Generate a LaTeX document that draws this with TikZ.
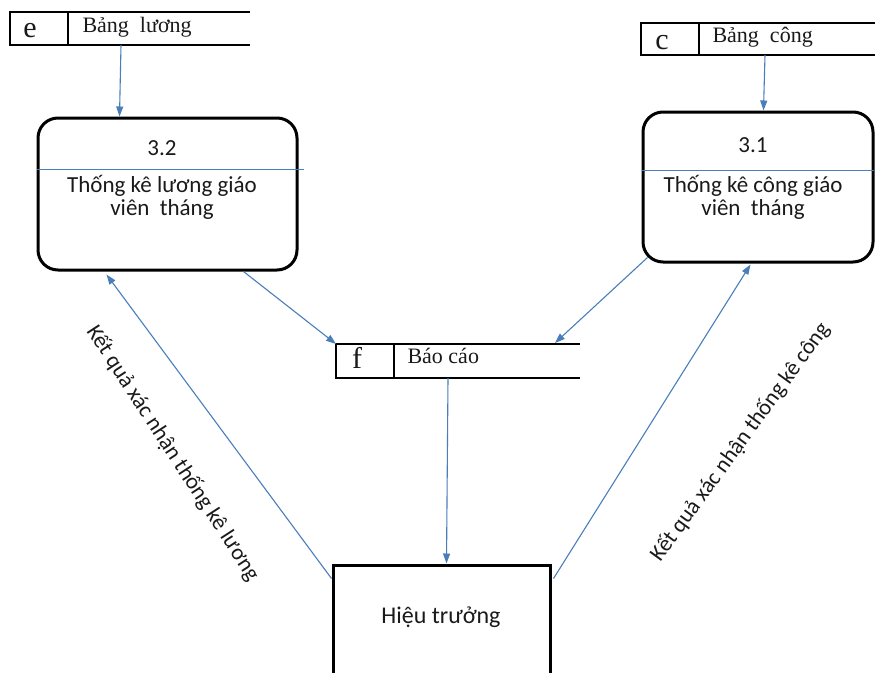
\documentclass[tikz,border=0pt]{standalone}
\usepackage{fontspec}
\setmainfont{Carlito}
\newfontfamily\storefont{Liberation Serif}
\usetikzlibrary{arrows.meta,calc}

\definecolor{flow}{HTML}{4A7EBB}
\definecolor{ink}{HTML}{1A1A1A}

\begin{document}
\begin{tikzpicture}[x=1pt,y=-1pt,
  flowline/.style={draw=flow, line width=1.1pt, -{Triangle[length=10pt,width=7pt]}},
  divline/.style={draw=flow, line width=1pt},
  procbox/.style={draw, line width=3pt, rounded corners=20pt, inner sep=0pt},
  agentbox/.style={draw, line width=3pt, inner sep=0pt},
  storearea/.style={inner sep=0pt, outer sep=0pt},
  storeline/.style={draw, line width=1.4pt},
  storeid/.style={font=\storefont\fontsize{30}{32}\selectfont, text=ink, anchor=base},
  storename/.style={font=\storefont\fontsize{22}{24}\selectfont, text=ink, anchor=base west},
  proctext/.style={font=\fontsize{23}{23}\selectfont, text=ink, align=center},
  flowlabel/.style={font=\fontsize{22.5}{24}\selectfont, text=ink}
]
\clip (0,0) rectangle (875,672);
\fill[white] (0,0) rectangle (875,672);

% ---- data stores (open-ended on the right) ----
\node[storearea, minimum width=240pt, minimum height=33pt] (se) at (130,28.5) {};
\node[storearea, minimum width=234pt, minimum height=32pt] (sc) at (758,39) {};
\node[storearea, minimum width=244pt, minimum height=34pt] (sf) at (458,361) {};

\foreach \s/\d in {se/58, sc/58, sf/58}{
  \draw[storeline] (\s.north east) -- (\s.north west) -- (\s.south west) -- (\s.south east);
  \draw[storeline] ($(\s.north west)+(\d,0)$) -- ($(\s.south west)+(\d,0)$);
}
\node[storeid] (ide) at ($(se.north west)+(20,25)$) {e};
\node[storeid] (idc) at ($(sc.north west)+(21,26)$) {c};
\node[storeid] (idf) at ($(sf.north west)+(21,24)$) {f};
\node[storename] (ne) at ($(se.north west)+(69,20)$) {Bảng\ \ lương};
\node[storename] (nc) at ($(sc.north west)+(68,19)$) {Bảng\ \ công};
\node[storename] (nf) at ($(sf.north west)+(68,19)$) {Báo cáo};

% ---- processes ----
\node[procbox, minimum width=259pt, minimum height=152pt] (p32) at (167.5,194) {};
\node[procbox, minimum width=230pt, minimum height=150pt] (p31) at (758,187) {};

\draw[divline] ($(p32.west)+(0,-25)$) -- ++(267,0);
\draw[divline] ($(p31.west)+(0,-17)$) -- ++(232,0);

\node[proctext] (n32) at (162,148) {3.2};
\node[proctext] (t32) at (162,197) {Thống kê lương giáo\\viên\ \ tháng};
\node[proctext] (n31) at (753,145) {3.1};
\node[proctext] (t31) at (753,197) {Thống kê công giáo\\viên\ \ tháng};

% ---- external agent ----
\node[agentbox, minimum width=217pt, minimum height=130pt] (ht) at (441.5,630) {};
\node[proctext, font=\fontsize{24}{24}\selectfont] (htt) at (441,617) {Hiệu trưởng};

% ---- data flows ----
\draw[flowline] ($(se.south west)+(111,0)$) -- ($(p32.north west)+(83,0)$);
\draw[flowline] ($(sc.south west)+(124,0)$) -- ($(p31.north west)+(122,0)$);
\draw[flowline] ($(p32.south west)+(207,0)$) -- (sf.north west);
\draw[flowline] ($(p31.south west)+(6,-6)$) -- ($(sf.north east)+(-25,-1)$);
\draw[flowline] ($(sf.south west)+(112,0)$) -- ($(ht.north west)+(115,0)$);
\draw[flowline] ($(ht.north west)+(0,15)$) -- ($(p32.south west)+(70,3)$);
\draw[flowline] ($(ht.north east)+(2,15)$) -- ($(p31.south west)+(109,1)$);

\node[flowlabel, rotate=-57] (lbl32) at (173,453) {Kết quả xác nhận thống kê lương};
\node[flowlabel, rotate=54] (lbl31) at (740,442) {Kết quả xác nhận thống kê công};
\end{tikzpicture}
\end{document}
